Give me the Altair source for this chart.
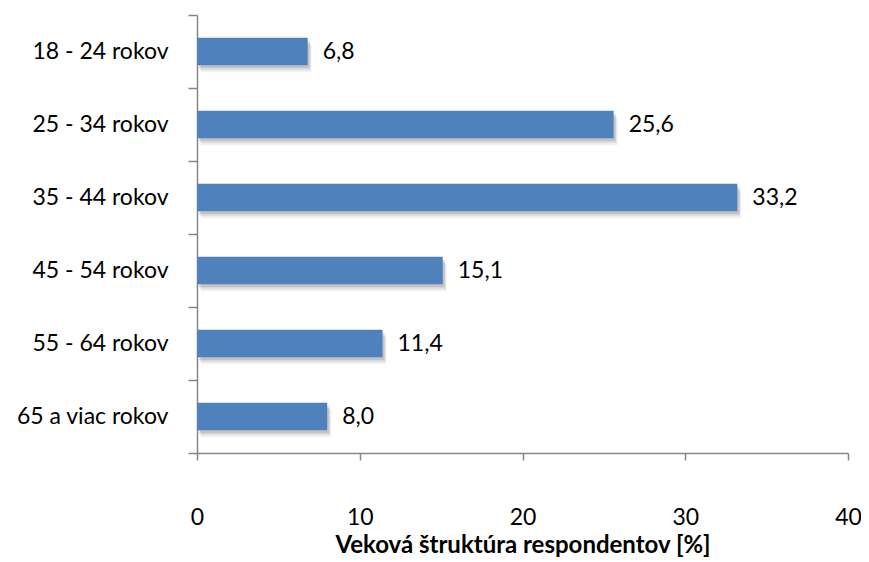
import altair as alt
import pandas as pd

categories = ["18 - 24 rokov", "25 - 34 rokov", "35 - 44 rokov",
              "45 - 54 rokov", "55 - 64 rokov", "65 a viac rokov"]
values = [6.8, 25.6, 33.2, 15.1, 11.4, 8.0]
x_ticks = [0, 10, 20, 30, 40]

df = pd.DataFrame({
    "cat": categories,
    "val": values,
    "lab": [f"{v:.1f}".replace(".", ",") for v in values],
})

FONT = "Lato"
FS = 23
AX = "#868686"

y_enc = alt.Y("cat:N", sort=categories,
              scale=alt.Scale(paddingInner=0, paddingOuter=0),
              axis=alt.Axis(title=None, tickBand="extent", tickSize=9, tickColor=AX,
                            domainColor=AX, labelFont=FONT, labelFontSize=FS,
                            labelColor="#000000", labelPadding=20, domainWidth=1.5,
                            tickWidth=1.5))
x_enc = alt.X("val:Q", scale=alt.Scale(domain=[0, 40], nice=False),
              axis=alt.Axis(values=x_ticks, title="Veková štruktúra respondentov [%]",
                            grid=False, tickSize=7, tickColor=AX, domainColor=AX,
                            domainWidth=1.5, tickWidth=1.5, labelFlush=False,
                            labelFont=FONT, labelFontSize=FS, labelColor="#000000",
                            labelPadding=46, titleFont=FONT, titleFontSize=24,
                            titleFontWeight="bold", titleColor="#000000",
                            titlePadding=4))

base = alt.Chart(df)

shadows = [
    base.mark_bar(height={"band": 0.38}, color="#000000", opacity=o,
                  xOffset=dx, yOffset=dy).encode(x=x_enc, y=y_enc)
    for (dx, dy, o) in [(2, 3, 0.12), (3, 5, 0.08), (4, 7, 0.05)]
]

bars = base.mark_bar(height={"band": 0.38}, color="#4F81BD").encode(x=x_enc, y=y_enc)
text = base.mark_text(align="left", baseline="middle", dx=15, font=FONT,
                      fontSize=FS, color="#000000").encode(x=x_enc, y=y_enc, text="lab:N")

chart = alt.layer(*shadows, bars, text).properties(
    width=651, height=438,
    autosize=alt.AutoSizeParams(type="none"),
    padding={"left": 189, "top": 7, "right": 13, "bottom": 108},
).configure(background="#ffffff").configure_view(strokeWidth=0, stroke="transparent")

chart.save("out.html", embed_options={"renderer": "svg", "actions": False})
